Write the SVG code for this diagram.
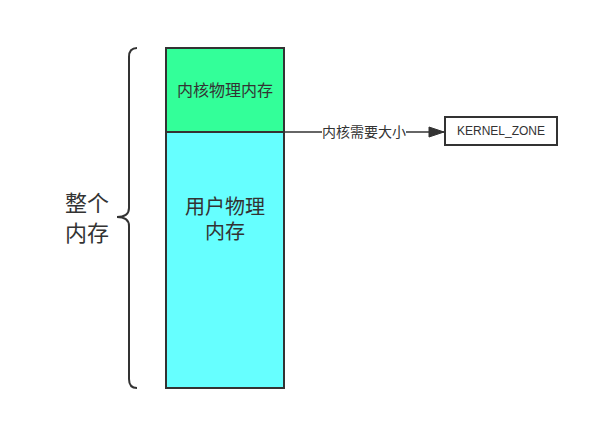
<svg xmlns="http://www.w3.org/2000/svg" width="590" height="421" viewBox="0 0 590 421">
<style>
text{font-family:"Liberation Sans","Noto Sans CJK SC",sans-serif;fill:#333333;text-anchor:middle;dominant-baseline:central}
.box{stroke:#333333;stroke-width:2}
</style>
<defs>
<marker id="arr" markerWidth="18" markerHeight="12" refX="16" refY="6" orient="auto" markerUnits="userSpaceOnUse">
<path d="M1,1 L16,6 L1,11 Z" fill="#333333" stroke="#333333"/>
</marker>
</defs>
<rect width="590" height="421" fill="#ffffff"/>
<g id="brace">
<path d="M137,48 Q129,48 129,57 L129,208 Q129,217 117,217 Q129,217 129,226 L129,379 Q129,388 137,388" fill="none" stroke="#333333" stroke-width="2"/>
</g>
<g id="whole-memory">
<text x="87" y="203" font-size="22">整个</text>
<text x="87" y="233" font-size="22">内存</text>
</g>
<g id="kernel-mem">
<rect class="box" x="166" y="48" width="118" height="84" fill="#33FF99"/>
<text x="225" y="90" font-size="16">内核物理内存</text>
</g>
<g id="user-mem">
<rect class="box" x="166" y="132" width="118" height="256" fill="#66FFFF"/>
<text x="225" y="207" font-size="20">用户物理</text>
<text x="225" y="232" font-size="20">内存</text>
</g>
<g id="kernel-zone">
<rect class="box" x="445" y="117" width="112" height="28" fill="#ffffff"/>
<text x="501" y="131" font-size="12">KERNEL_ZONE</text>
</g>
<g id="connectors">
<path d="M284,132 L444,132" fill="none" stroke="#333333" stroke-width="1.5" marker-end="url(#arr)"/>
<rect x="322" y="124" width="84" height="16" fill="#ffffff"/>
<text x="364" y="132" font-size="14">内核需要大小</text>
</g>
</svg>
